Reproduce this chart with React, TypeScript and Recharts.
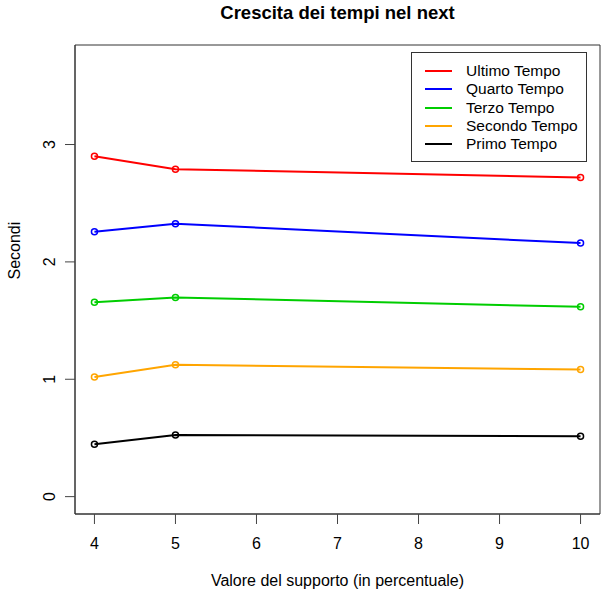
import React from 'react'
import {
  LineChart,
  Line,
  XAxis,
  YAxis,
  Legend,
  ReferenceArea,
} from 'recharts'

// support values (percent) on the x axis
const supporto = [4, 5, 10]

// seconds per phase
const ultimoTempo = [2.9, 2.79, 2.72]
const quartoTempo = [2.257, 2.325, 2.16]
const terzoTempo = [1.656, 1.697, 1.617]
const secondoTempo = [1.02, 1.123, 1.083]
const primoTempo = [0.446, 0.526, 0.514]

const xTicks = [4, 5, 6, 7, 8, 9, 10]
const yTicks = [0, 1, 2, 3]

const xDomain = [3.76, 10.24]
const yDomain = [-0.148, 3.848]

const series = [
  { key: 'ultimo', name: 'Ultimo Tempo', color: '#ff0000', values: ultimoTempo },
  { key: 'quarto', name: 'Quarto Tempo', color: '#0000ff', values: quartoTempo },
  { key: 'terzo', name: 'Terzo Tempo', color: '#00cd00', values: terzoTempo },
  { key: 'secondo', name: 'Secondo Tempo', color: '#ffa500', values: secondoTempo },
  { key: 'primo', name: 'Primo Tempo', color: '#000000', values: primoTempo },
]

const data = supporto.map((x, i) => {
  const row: Record<string, number> = { x }
  series.forEach((s) => {
    row[s.key] = s.values[i]
  })
  return row
})

const FONT = '"Liberation Sans", Arial, sans-serif'

const YTick = (props: any) => {
  const { x, y, payload } = props
  return (
    <text
      x={x}
      y={y}
      transform={`rotate(-90, ${x}, ${y})`}
      textAnchor="middle"
      fontSize={16}
      fontFamily={FONT}
      fill="#000"
    >
      {payload.value}
    </text>
  )
}

const XTick = (props: any) => {
  const { x, y, payload } = props
  return (
    <text x={x} y={y + 23} textAnchor="middle" fontSize={16} fontFamily={FONT} fill="#000">
      {payload.value}
    </text>
  )
}

const LegendBox = () => (
  <div
    style={{
      border: '1px solid #333',
      background: '#fff',
      width: 174,
      height: 99,
      boxSizing: 'content-box',
      paddingTop: 9,
      fontFamily: FONT,
      fontSize: 15.5,
    }}
  >
    {series.map((s) => (
      <div key={s.key} style={{ display: 'flex', alignItems: 'center', height: 18.3 }}>
        <span style={{ width: 27, height: 2, background: s.color, marginLeft: 13, marginRight: 14 }} />
        <span style={{ lineHeight: '18px' }}>{s.name}</span>
      </div>
    ))}
  </div>
)

export default function App() {
  return (
    <div style={{ position: 'absolute', left: 0, top: 0, width: 604, height: 591, background: '#fff' }}>
      <LineChart
        width={604}
        height={591}
        data={data}
        margin={{ top: 45, right: 4, left: 0, bottom: 0 }}
      >
        <text
          x={337.5}
          y={19}
          textAnchor="middle"
          fontSize={18.5}
          fontWeight="bold"
          fontFamily={FONT}
          fill="#000"
        >
          Crescita dei tempi nel next
        </text>
        <XAxis
          dataKey="x"
          type="number"
          domain={xDomain}
          ticks={xTicks}
          interval={0}
          height={77}
          tickSize={10}
          tickLine={{ stroke: '#444' }}
          axisLine={{ stroke: '#333' }}
          tick={<XTick />}
          label={{
            value: 'Valore del supporto (in percentuale)',
            position: 'insideBottom',
            offset: 5,
            fontSize: 16,
            fontFamily: FONT,
            fill: '#000',
          }}
        />
        <YAxis
          type="number"
          domain={yDomain}
          ticks={yTicks}
          interval={0}
          width={75}
          tickSize={10}
          tickMargin={10}
          tickLine={{ stroke: '#444' }}
          axisLine={{ stroke: '#333' }}
          tick={<YTick />}
          label={{
            value: 'Secondi',
            angle: -90,
            position: 'insideLeft',
            offset: 14,
            fontSize: 16,
            fontFamily: FONT,
            fill: '#000',
          }}
        />
        {/* full plot box like R's box() */}
        <ReferenceArea
          x1={xDomain[0]}
          x2={xDomain[1]}
          y1={yDomain[0]}
          y2={yDomain[1]}
          fill="none"
          stroke="#333"
          strokeWidth={1}
          ifOverflow="visible"
        />
        <Legend
          layout="horizontal"
          verticalAlign="middle"
          align="center"
          content={<LegendBox />}
          wrapperStyle={{ position: 'absolute', left: 411, top: 52, width: 'auto', height: 'auto' }}
        />
        {series.map((s) => (
          <Line
            key={s.key}
            dataKey={s.key}
            name={s.name}
            stroke={s.color}
            strokeWidth={2}
            dot={{ r: 3, stroke: s.color, strokeWidth: 1.5, fill: 'none' }}
            activeDot={false}
            isAnimationActive={false}
          />
        ))}
      </LineChart>
    </div>
  )
}
